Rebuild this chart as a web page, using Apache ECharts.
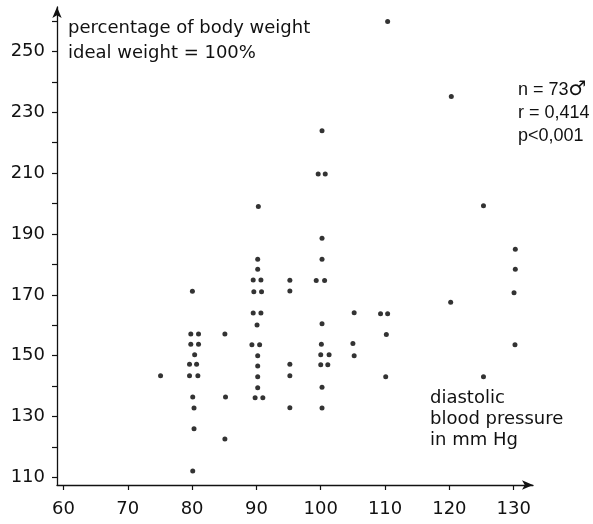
<!DOCTYPE html>
<html>
<head>
<meta charset="utf-8">
<script src="https://cdn.jsdelivr.net/npm/echarts@6/dist/echarts.min.js"></script>
<style>
  html, body { margin: 0; padding: 0; background: #fff; }
  #chart { width: 593px; height: 524px; }
</style>
</head>
<body>
<div id="chart"></div>
<script>
// Diastolic blood pressure (mm Hg) per subject; paired readings sit side by side
const diastolicBP = [
  75.1,
  80.05, 79.8, 81.0, 79.8, 81.0, 80.4, 79.6, 80.7, 79.6, 80.9, 80.1, 80.3, 80.3, 80.1,
  85.1, 85.2, 85.1,
  90.3, 90.2, 90.2, 89.5, 90.7, 89.6, 90.8, 89.5, 90.7, 90.1, 89.3, 90.5, 90.2, 90.2, 90.2, 90.2, 89.8, 91.0,
  95.2, 95.2, 95.2, 95.2, 95.2,
  100.2, 99.6, 100.7, 100.2, 100.2, 99.3, 100.6, 100.2, 100.1, 100.0, 101.3, 100.0, 101.1, 100.2, 100.2,
  105.2, 105.0, 105.2,
  110.4, 109.3, 110.4, 110.2, 110.1,
  120.3, 120.2,
  125.3, 125.3,
  130.25, 130.25, 130.05, 130.2
];

// Body weight as percentage of ideal weight, same order as above
const bodyWeightPct = [
  143.4,
  171.2, 157.1, 157.1, 153.8, 153.8, 150.3, 147.2, 147.2, 143.4, 143.4, 136.4, 132.8, 126.0, 112.1,
  157.1, 136.4, 122.6,
  199.0, 181.7, 178.4, 174.9, 174.9, 171.0, 171.0, 164.0, 164.0, 160.1, 153.6, 153.6, 150.0, 146.6, 143.1, 139.5, 136.2, 136.2,
  174.8, 171.3, 147.2, 143.4, 132.9,
  223.9, 209.7, 209.7, 188.6, 181.7, 174.7, 174.7, 160.5, 153.8, 150.3, 150.3, 147.0, 147.0, 139.6, 132.8,
  164.1, 154.0, 150.0,
  259.8, 163.8, 163.8, 157.0, 143.1,
  235.2, 167.6,
  199.3, 143.1,
  185.0, 178.4, 170.7, 153.6
];

// Axis ticks and labels
const xTicks = [60, 70, 80, 90, 100, 110, 120, 130];
const yTicks = [110, 120, 130, 140, 150, 160, 170, 180, 190, 200, 210, 220, 230, 240, 250, 260];
const yLabels = [110, 130, 150, 170, 190, 210, 230, 250];

const yTitleLines = ['percentage of body weight', 'ideal weight = 100%'];
const xTitleLines = ['diastolic', 'blood pressure', 'in mm Hg'];
const statLines = ['n = 73{m|\u2642}', 'r = 0,414', 'p<0,001'];

const points = diastolicBP.map((x, i) => [x, bodyWeightPct[i]]);

const FONT = 'DejaVu Sans';
const INK = '#111';

const chart = echarts.init(document.getElementById('chart'), null, { renderer: 'canvas' });

const axisCommon = {
  type: 'value',
  splitLine: { show: false },
  axisLine: {
    show: true,
    onZero: false,
    symbol: ['none', 'arrow'],
    symbolSize: [7, 11],
    lineStyle: { color: INK, width: 1.3 }
  },
  axisTick: { show: true, inside: false, length: 5, lineStyle: { color: INK, width: 1.2 } },
  axisLabel: { color: INK, fontFamily: FONT, fontSize: 18 }
};

chart.setOption({
  animation: false,
  backgroundColor: '#fff',
  grid: { left: 57, right: 60, top: 7, bottom: 39, containLabel: false },
  xAxis: Object.assign({}, axisCommon, {
    min: 59, max: 133,
    axisTick: Object.assign({}, axisCommon.axisTick, { customValues: xTicks }),
    axisLabel: Object.assign({}, axisCommon.axisLabel, { customValues: xTicks, margin: 15 })
  }),
  yAxis: Object.assign({}, axisCommon, {
    min: 107.5, max: 264.6,
    axisTick: Object.assign({}, axisCommon.axisTick, { customValues: yTicks }),
    axisLabel: Object.assign({}, axisCommon.axisLabel, { customValues: yLabels, margin: 12 })
  }),
  series: [{
    type: 'scatter',
    data: points,
    symbol: 'circle',
    symbolSize: 5,
    itemStyle: { color: '#000' },
    silent: true
  }],
  graphic: [
    {
      type: 'text', x: 68, y: 41,
      style: { text: yTitleLines.join('\n'), font: '18px "' + FONT + '"', fill: INK,
               lineHeight: 25, verticalAlign: 'middle', align: 'left' }
    },
    {
      type: 'text', x: 430, y: 419,
      style: { text: xTitleLines.join('\n'), font: '18px "' + FONT + '"', fill: INK,
               lineHeight: 21, verticalAlign: 'middle', align: 'left' }
    },
    {
      type: 'text', x: 518, y: 113,
      style: {
        text: statLines.join('\n'),
        fontFamily: 'Liberation Sans', fontSize: 18, fill: INK,
        lineHeight: 23, verticalAlign: 'middle', align: 'left',
        rich: {
          m: { fontFamily: FONT, fontSize: 20, fill: INK, lineHeight: 23 }
        }
      }
    }
  ]
});
</script>
</body>
</html>
